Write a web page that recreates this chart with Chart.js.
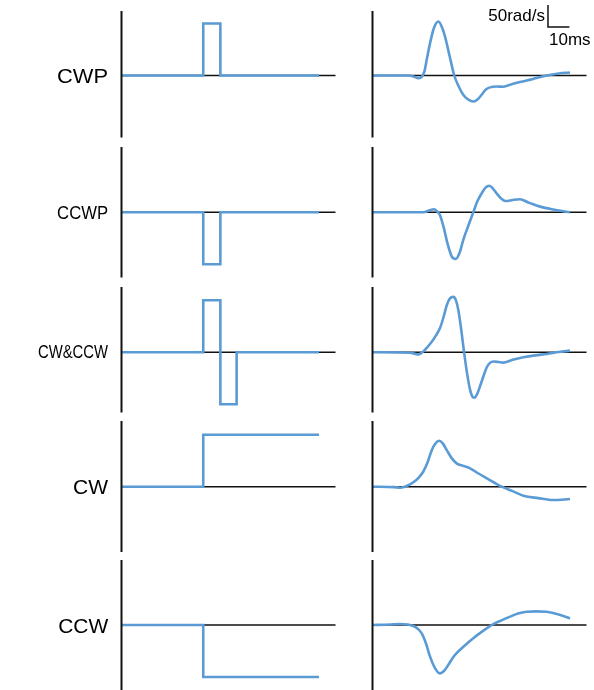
<!DOCTYPE html>
<html>
<head>
<meta charset="utf-8">
<script src="https://cdn.jsdelivr.net/npm/chart.js@4.4.1/dist/chart.umd.min.js"></script>
<style>
  body { margin: 0; background: #fff; }
  #wrap { position: relative; width: 594px; height: 690px; overflow: hidden;
          font-family: "Liberation Sans", Arial, sans-serif; color: #000; }
  #wrap canvas { position: absolute; left: 0; top: 0; }
  .lbl { position: absolute; white-space: nowrap; transform-origin: 100% 50%; }
  .bar { position: absolute; font-size: 17px; line-height: 17px; white-space: nowrap; }
</style>
</head>
<body>
<div id="wrap"></div>
<script>
// ---- data ----
const rowNames = ['CWP', 'CCWP', 'CW&CCW', 'CW', 'CCW'];

// stimulus (left column), time in ms, amplitude in arbitrary units
const inTimePulse  = [0, 38.2, 38.2, 46.2, 46.2, 92.3];
const inCWP        = [0, 0, 1, 1, 0, 0];
const inCCWP       = [0, 0, -1, -1, 0, 0];
const inTimeDouble = [0, 38.2, 38.2, 46.2, 46.2, 53.8, 53.8, 92.3];
const inCWCCW      = [0, 0, 1, 1, -1, -1, 0, 0];
const inTimeStep   = [0, 38.2, 38.2, 92.3];
const inCW         = [0, 0, 1, 1];
const inCCW        = [0, 0, -1, -1];

// response (right column), time in ms, angular velocity in rad/s
const tCWP  = [0, 17, 19.5, 21.4, 23, 24.3, 25.3, 26.9, 28.7, 30.8, 32.6, 33.9, 36, 38.2, 40.3, 42.4, 44.8, 47.1, 49.2, 51, 53, 54.9, 58, 61.1, 65, 68.9, 75, 81.4, 87, 92.3];
const vCWP  = [0, 0, -3, -6, -3, 10, 35, 73.6, 108, 122.6, 108, 88.5, 45, 0, -25, -43.8, -55, -59, -54, -43.8, -32, -27, -25, -25.5, -20, -15, -8, 0, 4.5, 6.8];

const tCCWP = [0, 23.7, 26.5, 28.7, 30.2, 31.5, 33.3, 35, 37, 38.9, 40.7, 42.4, 44.8, 47.1, 49, 51, 52.8, 54.6, 56.3, 58, 60, 62.2, 65.5, 68.9, 73, 78.3, 85, 92.3];
const vCCWP = [0, 0, 4, 6.8, 2, -6, -35, -70, -100, -106, -92, -63, -30, 0, 25, 43, 56, 60.5, 54, 43, 32, 25.7, 28, 29.5, 22, 12.9, 6, 0];

const tCWCCW = [0, 17.5, 19.5, 21.4, 22.7, 23.7, 25.7, 27.7, 29.6, 31.5, 33.2, 34.7, 36.3, 37.8, 39, 40.1, 41.5, 42.8, 44.2, 45.6, 46.6, 47.6, 48.9, 50.2, 51.8, 53.4, 54.9, 56.5, 58.8, 61.1, 65.5, 70.5, 76, 81.4, 87, 92.3];
const vCWCCW = [0, -1, -3, -5, -2, 1.5, 12, 24, 38, 54.5, 80, 107, 123, 126, 118, 96, 50, 0, -48, -85.5, -100, -103, -95, -78, -55, -34, -24, -21, -22, -23.5, -17, -11.4, -7, -3.8, 0.5, 3.8];

const tCW = [0, 10, 12.9, 16, 19.9, 21.8, 23.7, 25.7, 27.7, 29.4, 31.1, 32.9, 34.7, 37, 39.3, 42.5, 45.6, 49.5, 53.4, 57, 60.4, 65.5, 70.5, 77.5, 84.5, 92.3];
const vCW = [0, -1, -2.3, 1.5, 12.9, 22, 34, 55, 83, 98, 104.5, 98, 83, 65, 53, 47, 41.7, 30, 19, 9, 0, -10, -20.4, -26, -30.3, -28];

const tCCW = [0, 8, 12.9, 16.5, 19.1, 21, 23, 25, 26.9, 29.2, 31.5, 33.5, 35.4, 37.3, 39.3, 43, 47.1, 51.5, 55.7, 60, 64.3, 68, 72, 76.5, 81.4, 87, 92.3];
const vCCW = [0, 1, 2.3, 1, -2.3, -8, -19, -42, -72, -98, -110, -104, -91, -76, -64, -47, -30, -14, 0, 10, 19, 26, 30, 31, 30, 24, 15];

const scaleBarMs = 10;   // horizontal scale bar
const scaleBarRad = 50;  // vertical scale bar

// ---- layout ----
const W = 594, H = 690;
const rowTop    = [11, 147, 287, 421, 560];
const rowZero   = [75.5, 212.3, 352.3, 486.7, 625];
const rowBottom = [137.5, 277.5, 412.5, 552, 690];
const labelSize  = [21, 19, 18, 21, 21];
const labelWidth = [51, 51, 70, 35, 50];   // label boxes are a bit squeezed in the figure
const colLeft = [121.5, 372.5];
const colWidth = 214;
const pxPerUnit = [52, 0.44];   // left: px per unit, right: px per rad/s
const tMax = 100;
const barCorner = { x: 82, y: 110 };  // ms, rad/s (row 1, right)
const blue = '#5b9bd5';

const wrap = document.getElementById('wrap');

const axesPlugin = {
  id: 'panelAxes',
  beforeDatasetsDraw(chart) {
    const { ctx, chartArea: a, scales: { y } } = chart;
    const y0 = y.getPixelForValue(0);
    ctx.save();
    ctx.strokeStyle = '#111';
    ctx.lineWidth = 1.6;
    ctx.beginPath();
    ctx.moveTo(a.left, y0);
    ctx.lineTo(a.right, y0);
    ctx.stroke();
    ctx.restore();
  },
  afterDatasetsDraw(chart) {
    const { ctx, chartArea: a } = chart;
    ctx.save();
    ctx.strokeStyle = '#111';
    ctx.lineWidth = 2;
    ctx.beginPath();
    ctx.moveTo(a.left, a.top);
    ctx.lineTo(a.left, a.bottom);
    ctx.stroke();
    ctx.restore();
  }
};

const scaleBarPlugin = {
  id: 'scaleBar',
  afterDraw(chart) {
    const { ctx, scales: { x, y } } = chart;
    const x0 = x.getPixelForValue(barCorner.x);
    const x1 = x.getPixelForValue(barCorner.x + scaleBarMs);
    const y0 = y.getPixelForValue(barCorner.y);
    const y1 = y.getPixelForValue(barCorner.y + scaleBarRad);
    ctx.save();
    ctx.strokeStyle = '#111';
    ctx.lineWidth = 1.5;
    ctx.beginPath();
    ctx.moveTo(x0, y1);
    ctx.lineTo(x0, y0);
    ctx.lineTo(x1, y0);
    ctx.stroke();
    ctx.restore();
  }
};

function makePanel(row, col, t, v, extra) {
  const c = document.createElement('canvas');
  c.width = W; c.height = H;
  wrap.appendChild(c);
  const k = pxPerUnit[col];
  const pts = t.map((tt, i) => ({ x: tt, y: v[i] }));
  new Chart(c, {
    type: 'line',
    data: {
      datasets: [{
        data: pts,
        borderColor: blue,
        borderWidth: 2.6,
        pointRadius: 0,
        fill: false,
        tension: col ? 0.4 : 0,
        cubicInterpolationMode: col ? 'monotone' : 'default',
        clip: false
      }]
    },
    options: {
      responsive: false,
      animation: false,
      events: [],
      layout: { padding: { left: colLeft[col], right: W - colLeft[col] - colWidth, top: rowTop[row], bottom: H - rowBottom[row] } },
      scales: {
        x: { type: 'linear', min: 0, max: tMax, display: false },
        y: { min: -(rowBottom[row] - rowZero[row]) / k, max: (rowZero[row] - rowTop[row]) / k, display: false }
      },
      plugins: { legend: { display: false }, tooltip: { enabled: false } }
    },
    plugins: extra ? [axesPlugin, extra] : [axesPlugin]
  });
}

// left column
makePanel(0, 0, inTimePulse, inCWP);
makePanel(1, 0, inTimePulse, inCCWP);
makePanel(2, 0, inTimeDouble, inCWCCW);
makePanel(3, 0, inTimeStep, inCW);
makePanel(4, 0, inTimeStep, inCCW);
// right column
makePanel(0, 1, tCWP, vCWP, scaleBarPlugin);
makePanel(1, 1, tCCWP, vCCWP);
makePanel(2, 1, tCWCCW, vCWCCW);
makePanel(3, 1, tCW, vCW);
makePanel(4, 1, tCCW, vCCW);

// row labels
rowNames.forEach((name, i) => {
  const s = labelSize[i];
  const d = document.createElement('div');
  d.className = 'lbl';
  d.textContent = name;
  d.style.fontSize = s + 'px';
  d.style.lineHeight = s + 'px';
  d.style.right = (W - 108) + 'px';
  d.style.top = (rowZero[i] - 0.49 * s) + 'px';
  wrap.appendChild(d);
  const w = d.getBoundingClientRect().width;
  d.style.transform = 'scaleX(' + (labelWidth[i] / w).toFixed(3) + ')';
});

// scale bar labels
const b1 = document.createElement('div');
b1.className = 'bar';
b1.textContent = scaleBarRad + 'rad/s';
b1.style.right = (W - 545) + 'px';
b1.style.top = '7.3px';
wrap.appendChild(b1);
const b2 = document.createElement('div');
b2.className = 'bar';
b2.textContent = scaleBarMs + 'ms';
b2.style.left = '549px';
b2.style.top = '30.6px';
wrap.appendChild(b2);
</script>
</body>
</html>
